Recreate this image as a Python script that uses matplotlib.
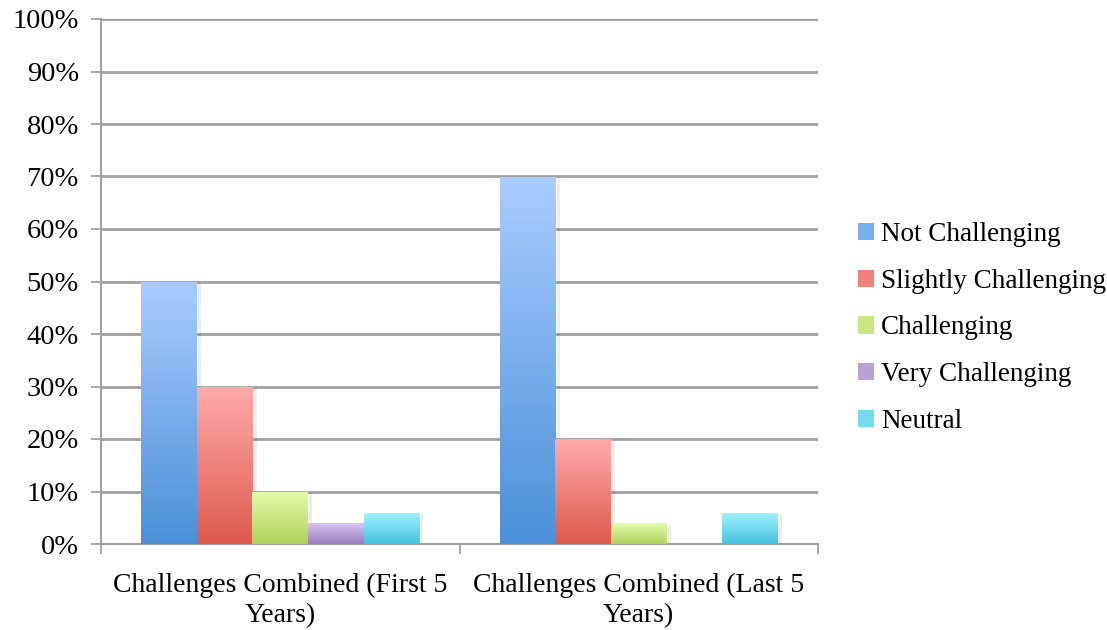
import matplotlib.pyplot as plt
import numpy as np
from matplotlib.colors import LinearSegmentedColormap, to_rgb
from matplotlib.patches import Patch

categories = ["Challenges Combined (First 5\nYears)", "Challenges Combined (Last 5\nYears)"]
series = ["Not Challenging", "Slightly Challenging", "Challenging", "Very Challenging", "Neutral"]
not_challenging = [0.50, 0.70]
slightly_challenging = [0.30, 0.20]
challenging = [0.10, 0.04]
very_challenging = [0.04, 0.00]
neutral = [0.06, 0.06]
values = [not_challenging, slightly_challenging, challenging, very_challenging, neutral]

# (top, bottom) gradient colours for each series
grads = [("#AACCFF", "#4A90D8"),
         ("#FFABAB", "#DC5A4C"),
         ("#E4FCAC", "#B0D25C"),
         ("#D8C4F2", "#9A7EBE"),
         ("#A4F3FF", "#44C2DF")]

plt.rcParams['font.family'] = ['Liberation Serif', 'DejaVu Serif']

fig = plt.figure(figsize=(11.07, 6.3), dpi=100)
ax = fig.add_axes([101/1107, 1-544/630, (818-101)/1107, (544-19)/630])

x = np.arange(len(categories))
w = 0.155
for i, (name, vals) in enumerate(zip(series, values)):
    cmap = LinearSegmentedColormap.from_list(name, [grads[i][1], grads[i][0]])
    pos = x + (i - 2) * w
    bars = ax.bar(pos, vals, w, color="none", edgecolor="none", zorder=3)
    for b in bars:
        if b.get_height() <= 0:
            continue
        bx, by = b.get_x(), b.get_y()
        bw, bh = b.get_width(), b.get_height()
        # soft shadow on the right
        ax.bar(bx + bw + 0.004, bh - 0.003, 0.008, bottom=by, align="edge",
               color="#000000", alpha=0.07, zorder=2.5, linewidth=0)
        im = ax.imshow(np.linspace(1, 0, 256).reshape(-1, 1), cmap=cmap, aspect="auto",
                       extent=[bx, bx + bw, by, by + bh], zorder=3, vmin=0, vmax=1)
        im.set_clip_path(b)

ax.set_xlim(-0.5, 1.5)
ax.set_ylim(0, 1.0)
ax.set_yticks(np.arange(0, 1.01, 0.1))
ax.set_yticklabels([f"{int(round(v*100))}%" for v in np.arange(0, 1.01, 0.1)], fontsize=20.5)
ax.set_xticks([-0.5, 0.5, 1.5])
ax.set_xticklabels([])
ax.set_xticks(x, minor=True)
ax.set_xticklabels(categories, minor=True, fontsize=20, linespacing=1.25)
ax.tick_params(axis="x", which="minor", length=0, pad=21)
ax.tick_params(axis="x", which="major", length=7, width=1.3, color="#A0A0A0")
ax.tick_params(axis="y", length=7, width=1.3, color="#A0A0A0", pad=9)

ax.grid(axis="y", color="#A0A0A0", linewidth=2, zorder=1)
ax.set_axisbelow(True)
for s in ["top", "right"]:
    ax.spines[s].set_visible(False)
for s in ["left", "bottom"]:
    ax.spines[s].set_color("#A0A0A0")
    ax.spines[s].set_linewidth(1.5)

handles = [Patch(facecolor=(np.array(to_rgb(t)) + np.array(to_rgb(b))) / 2) for t, b in grads]
fig.legend(handles, series, loc="center left", bbox_to_anchor=(858/1107, 1-328/630),
           frameon=False, fontsize=19.5, handlelength=0.6, handleheight=0.6,
           handletextpad=0.25, labelspacing=0.8, borderaxespad=0, borderpad=0)

fig.savefig("out.png", dpi=100)
